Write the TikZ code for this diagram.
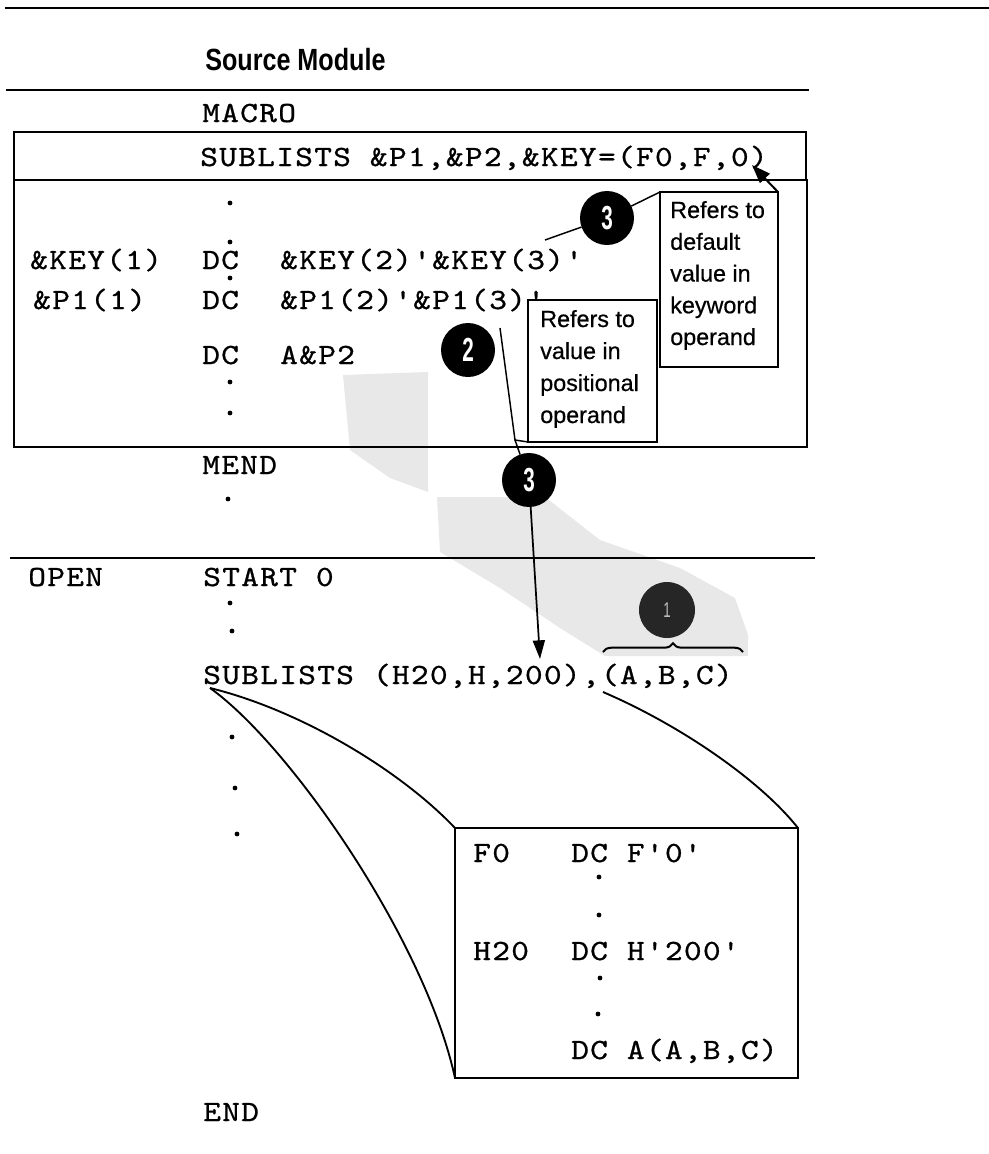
\documentclass[tikz,border=0pt]{standalone}
\usepackage{fontspec}
\usetikzlibrary{arrows.meta,decorations.pathreplacing}
\newfontfamily\codefont{lmmono10-regular}[Extension=.otf, LetterSpace=4.4, FakeStretch=1.15, FakeBold=0.8]
\newfontfamily\calloutfont{Liberation Sans}[FakeBold=0.6]
\newfontfamily\titlefont{Liberation Sans}[FakeStretch=0.82]
\newfontfamily\numfont{Liberation Sans}[FakeStretch=0.62]
\begin{document}
\begin{tikzpicture}[x=0.75pt,y=-0.75pt,
  code/.style={font=\codefont\fontsize{22}{26}\selectfont, anchor=base west, inner sep=0pt},
  calltext/.style={font=\calloutfont\fontsize{17.5}{24}\selectfont, anchor=base west, inner sep=0pt},
  cbox/.style={draw, line width=1.5pt, inner sep=0pt, outer sep=0pt},
  numcirc/.style={circle, fill=black, text=white, minimum size=40.5pt, inner sep=0pt, outer sep=0pt,
    font=\numfont\bfseries\fontsize{25}{25}\selectfont},
  rule/.style={line width=1.5pt},
  heavy/.style={line width=1.9pt},
  pointer/.style={line width=1.1pt},
  curve/.style={line width=1.4pt},
  smudge/.style={fill=black!9, draw=none},
  dotmark/.style={fill=black}
]
\useasboundingbox (0,0) rectangle (989,1154);

% scan smudges
\fill[smudge] (343,375) -- (428,372) -- (428,492) -- (390,478) -- (350,450) -- cycle;
\fill[smudge] (437,497) -- (545,497) -- (600,540) -- (680,568) -- (735,598) -- (748,635) -- (748,656) -- (605,656) -- (560,628) -- (500,588) -- (440,552) -- cycle;

% rules
\draw[line width=1.1pt] (5,8) -- (989,8);
\node[font=\titlefont\bfseries\fontsize{23}{26}\selectfont, anchor=base west, inner sep=0pt] (title) at (205,70) {Source Module};
\draw[rule] (6,90) -- (809,90);
\draw[rule] (10,558) -- (815,558);

% macro boxes
\draw[heavy] (14,132) rectangle (806,180);
\draw[heavy] (14,180) rectangle (807,447);

% macro definition text
\node[code] (macro) at (202,122) {MACRO};
\node[code] (proto) at (200,166) {SUBLISTS \&P1,\&P2,\&KEY=(F0,F,0)};
\node[code] (key1) at (30,269) {\&KEY(1)};
\node[code] (dc1) at (202,269) {DC};
\node[code] (keyops) at (280,269) {\&KEY(2)'\&KEY(3)'};
\node[code] (p11) at (33,309) {\&P1(1)};
\node[code] (dc2) at (202,309) {DC};
\node[code] (p1ops) at (280,309) {\&P1(2)'\&P1(3)'};
\node[code] (dc3) at (202,364) {DC};
\node[code] (ap2) at (280,364) {A\&P2};
\node[code] (mend) at (202,474) {MEND};
\foreach \yy in {203,242,278,382,413} \fill[dotmark] (230,\yy) circle (1.8pt);
\fill[dotmark] (228,499) circle (1.8pt);

% callout boxes
\node[cbox, minimum width=88.5pt, minimum height=131.25pt] (kbox) at (719,279.5) {};
\node[cbox, minimum width=96.75pt, minimum height=106.5pt] (pbox) at (592.5,371) {};
\node[calltext] (k1) at (670,218) {Refers to};
\node[calltext] (k2) at (670,249.75) {default};
\node[calltext] (k3) at (670,281.5) {value in};
\node[calltext] (k4) at (670,313.25) {keyword};
\node[calltext] (k5) at (670,345) {operand};
\node[calltext] (q1) at (540,327) {Refers to};
\node[calltext] (q2) at (540,359) {value in};
\node[calltext] (q3) at (540,391) {positional};
\node[calltext] (q4) at (540,423) {operand};

% numbered circles
\node[numcirc] (c3a) at (607,218) {3};
\node[numcirc] (c2) at (468,350) {2};
\node[numcirc] (c3b) at (529,480) {3};
\node[circle, fill=black!85, minimum size=42pt, inner sep=0pt, outer sep=0pt, text=black!25,
  font=\numfont\fontsize{16}{16}\selectfont] (c1) at (667,610) {1};

% pointer coordinates
\coordinate (kzero) at (752,165);
\coordinate (key3) at (545,240);
\coordinate (p13) at (500,328);
\coordinate (jn) at (515,440);
\coordinate (tip200) at (540,659);
\coordinate (br1) at (603,652);
\coordinate (br2) at (743,652);

\draw[line width=1.5pt, -{Triangle[length=14pt,width=10pt]}] (kbox.north east) -- (kzero);
\draw[pointer] (c3a) -- (kbox.north west);
\draw[pointer] (c3a) -- (key3);
\draw[pointer] (p13) -- (jn) -- (pbox.south west);
\draw[pointer] (jn) -- (c3b);
\draw[line width=1.3pt, -{Triangle[length=14pt,width=9pt]}] (c3b) -- (tip200);
\draw[line width=1.5pt, decorate, decoration={brace, amplitude=6.5pt}] (br1) -- (br2);

% open-code text
\node[code] (open) at (28,586) {OPEN};
\node[code] (start) at (203,586) {START 0};
\foreach \xx/\yy in {230/603,232/631,232/737,235/788,237/834} \fill[dotmark] (\xx,\yy) circle (1.8pt);
\node[code] (call) at (203,684) {SUBLISTS (H20,H,200),(A,B,C)};
\node[code] (endst) at (203,1121) {END};

% expansion box
\node[draw, line width=2pt, inner sep=0pt, outer sep=0pt, minimum width=257.25pt, minimum height=187.5pt] (bbox) at (626.5,953) {};
\node[code] (f0) at (473,862) {F0};
\node[code] (f0dc) at (571,862) {DC F'0'};
\node[code] (h20) at (473,960) {H20};
\node[code] (h20dc) at (571,960) {DC H'200'};
\node[code] (adc) at (571,1059) {DC A(A,B,C)};
\foreach \yy/\xx in {877/599,915/599,978/600,1014/598} \fill[dotmark] (\xx,\yy) circle (1.8pt);

% expansion curves
\coordinate (subs) at (210,688);
\coordinate (comma) at (603,692);
\draw[curve] (subs) .. controls (300,710) and (400,770) .. (bbox.north west);
\draw[curve] (subs) .. controls (290,745) and (425,940) .. (bbox.south west);
\draw[curve] (comma) .. controls (680,725) and (760,780) .. (bbox.north east);
\end{tikzpicture}
\end{document}
